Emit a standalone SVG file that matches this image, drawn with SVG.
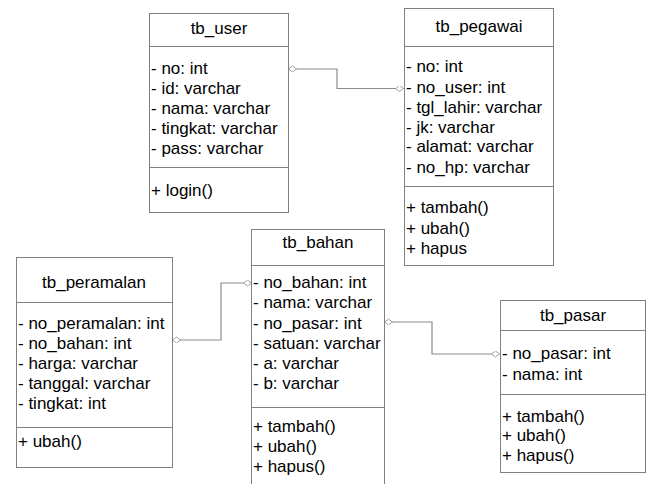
<svg xmlns="http://www.w3.org/2000/svg" width="649" height="484" viewBox="0 0 649 484">
<style>
.box{fill:#fff;stroke:#808080;stroke-width:1}
.sep{stroke:#808080;stroke-width:1}
text{font-family:"Liberation Sans",Arial,sans-serif;font-size:17px;fill:#000}
.t{text-anchor:middle}
.conn{fill:none;stroke:#8c8c8c;stroke-width:1.2;marker-start:url(#dia);marker-end:url(#dia)}
</style>
<defs>
<marker id="dia" markerUnits="userSpaceOnUse" markerWidth="10" markerHeight="8" refX="8" refY="3" orient="auto-start-reverse" viewBox="0 0 10 8">
<path d="M0,3 L4,0 L8,3 L4,6 Z" fill="#fff" stroke="#999" stroke-width="0.9"/>
</marker>
</defs>
<rect width="649" height="484" fill="#fff"/>
<g id="connectors">
<path class="conn" d="M288.5,69 H337 V88.5 H403.5"/>
<path class="conn" d="M172.5,340 H221 V283 H251.5"/>
<path class="conn" d="M384.5,322 H432 V354 H499.5"/>
</g>
<g id="tb_user">
<rect class="box" x="149.5" y="13.5" width="139" height="199"/>
<line class="sep" x1="149.5" y1="46.5" x2="288.5" y2="46.5"/>
<line class="sep" x1="149.5" y1="167.5" x2="288.5" y2="167.5"/>
<text class="t" x="219" y="34">tb_user</text>
<text x="151" y="74">- no: int</text>
<text x="151" y="94">- id: varchar</text>
<text x="151" y="114">- nama: varchar</text>
<text x="151" y="134">- tingkat: varchar</text>
<text x="151" y="154">- pass: varchar</text>
<text x="151" y="196">+ login()</text>
</g>
<g id="tb_pegawai">
<rect class="box" x="404.5" y="8.5" width="149" height="257"/>
<line class="sep" x1="404.5" y1="46.5" x2="553.5" y2="46.5"/>
<line class="sep" x1="404.5" y1="186.5" x2="553.5" y2="186.5"/>
<text class="t" x="479" y="32">tb_pegawai</text>
<text x="406" y="72">- no: int</text>
<text x="406" y="93">- no_user: int</text>
<text x="406" y="113">- tgl_lahir: varchar</text>
<text x="406" y="133">- jk: varchar</text>
<text x="406" y="152">- alamat: varchar</text>
<text x="406" y="173">- no_hp: varchar</text>
<text x="406" y="213">+ tambah()</text>
<text x="406" y="234">+ ubah()</text>
<text x="406" y="254">+ hapus</text>
</g>
<g id="tb_peramalan">
<rect class="box" x="16.5" y="257.5" width="156" height="210"/>
<line class="sep" x1="16.5" y1="302.5" x2="172.5" y2="302.5"/>
<line class="sep" x1="16.5" y1="427.5" x2="172.5" y2="427.5"/>
<text class="t" x="94" y="288">tb_peramalan</text>
<text x="18" y="329">- no_peramalan: int</text>
<text x="18" y="349">- no_bahan: int</text>
<text x="18" y="369">- harga: varchar</text>
<text x="18" y="389">- tanggal: varchar</text>
<text x="18" y="409">- tingkat: int</text>
<text x="18" y="447">+ ubah()</text>
</g>
<g id="tb_bahan">
<rect class="box" x="251.5" y="229.5" width="133" height="270"/>
<line class="sep" x1="251.5" y1="265.5" x2="384.5" y2="265.5"/>
<line class="sep" x1="251.5" y1="407.5" x2="384.5" y2="407.5"/>
<text class="t" x="318" y="248">tb_bahan</text>
<text x="253" y="288">- no_bahan: int</text>
<text x="253" y="308">- nama: varchar</text>
<text x="253" y="329">- no_pasar: int</text>
<text x="253" y="349">- satuan: varchar</text>
<text x="253" y="369">- a: varchar</text>
<text x="253" y="389">- b: varchar</text>
<text x="253" y="432">+ tambah()</text>
<text x="253" y="452">+ ubah()</text>
<text x="253" y="472">+ hapus()</text>
</g>
<g id="tb_pasar">
<rect class="box" x="500.5" y="300.5" width="145" height="172"/>
<line class="sep" x1="500.5" y1="330.5" x2="645.5" y2="330.5"/>
<line class="sep" x1="500.5" y1="394.5" x2="645.5" y2="394.5"/>
<text class="t" x="573" y="321">tb_pasar</text>
<text x="502" y="359">- no_pasar: int</text>
<text x="502" y="380">- nama: int</text>
<text x="502" y="422">+ tambah()</text>
<text x="502" y="441">+ ubah()</text>
<text x="502" y="461">+ hapus()</text>
</g>
</svg>
